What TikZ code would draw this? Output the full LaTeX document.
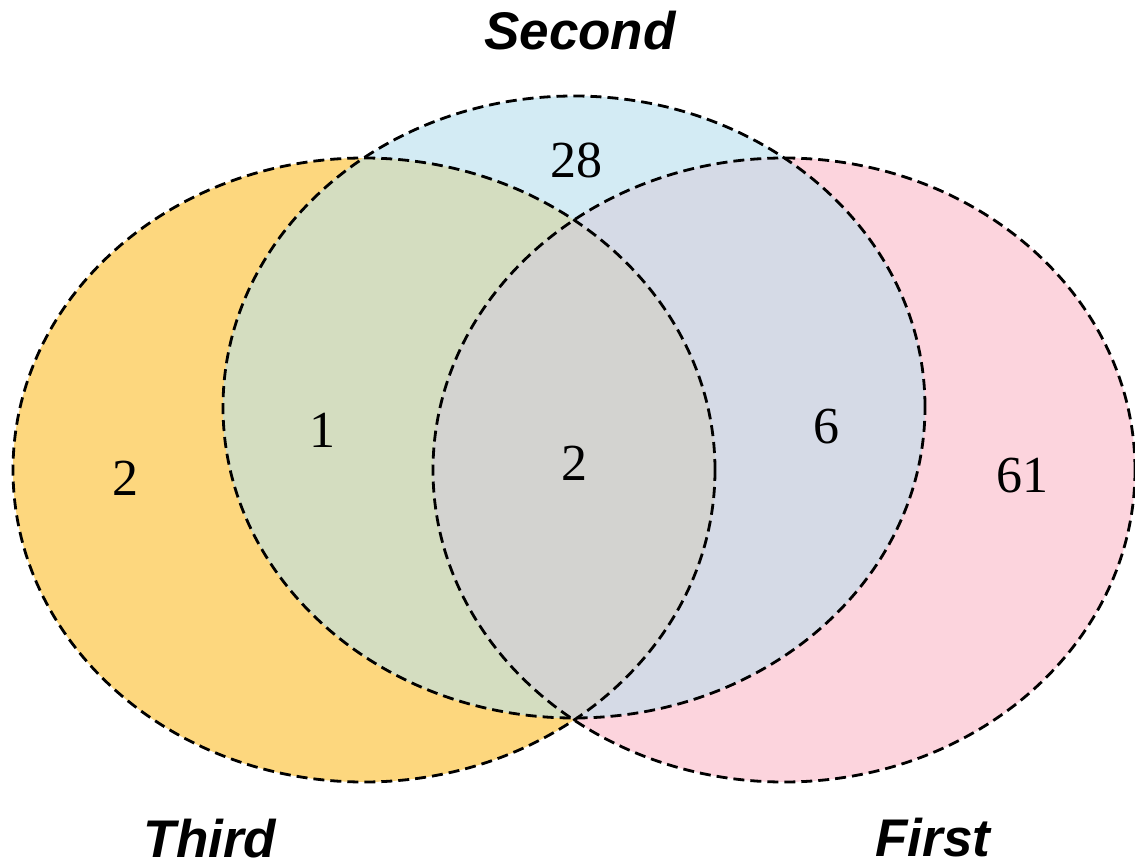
\documentclass[tikz,border=0pt]{standalone}
\usepackage{fontspec}
\setmainfont{Liberation Serif}
\newfontfamily\labfont{Liberation Sans}
\definecolor{cthird}{RGB}{253,215,126}
\definecolor{csecond}{RGB}{211,235,244}
\definecolor{cfirst}{RGB}{252,212,221}
\definecolor{cts}{RGB}{212,221,192}
\definecolor{csf}{RGB}{213,218,230}
\definecolor{ctf}{RGB}{225,210,200}
\definecolor{call}{RGB}{211,211,208}
\tikzset{
  outline/.style={draw=black, line width=2.8pt, dash pattern=on 11pt off 6pt},
  num/.style={font=\fontsize{52}{60}\selectfont, inner sep=0pt},
  setlab/.style={font=\labfont\bfseries\itshape\fontsize{53}{60}\selectfont, inner sep=0pt}
}
\begin{document}
\begin{tikzpicture}[x=1pt,y=-1pt]
\useasboundingbox (0,0) rectangle (1135,867);
\def\third{(364,470) ellipse [x radius=351pt, y radius=312pt]}
\def\second{(574,407) ellipse [x radius=351pt, y radius=311pt]}
\def\first{(784,470) ellipse [x radius=351pt, y radius=312pt]}
\fill[cthird] \third;
\fill[csecond] \second;
\fill[cfirst] \first;
\begin{scope}\clip \third; \fill[cts] \second; \end{scope}
\begin{scope}\clip \second; \fill[csf] \first; \end{scope}
\begin{scope}\clip \third; \fill[ctf] \first; \end{scope}
\begin{scope}\clip \third; \clip \second; \fill[call] \first; \end{scope}
\draw[outline] \third;
\draw[outline] \second;
\draw[outline] \first;
\node[num] (n28) at (576,160) {28};
\node[num] (n1) at (322,430) {1};
\node[num] (n2a) at (125,478) {2};
\node[num] (n2b) at (574,463) {2};
\node[num] (n6) at (826,427) {6};
\node[num] (n61) at (1022,476) {61};
\node[setlab] (second) at (580,31) {Second};
\node[setlab] (third) at (210,839) {Third};
\node[setlab] (first) at (933,838) {First};
\end{tikzpicture}
\end{document}
